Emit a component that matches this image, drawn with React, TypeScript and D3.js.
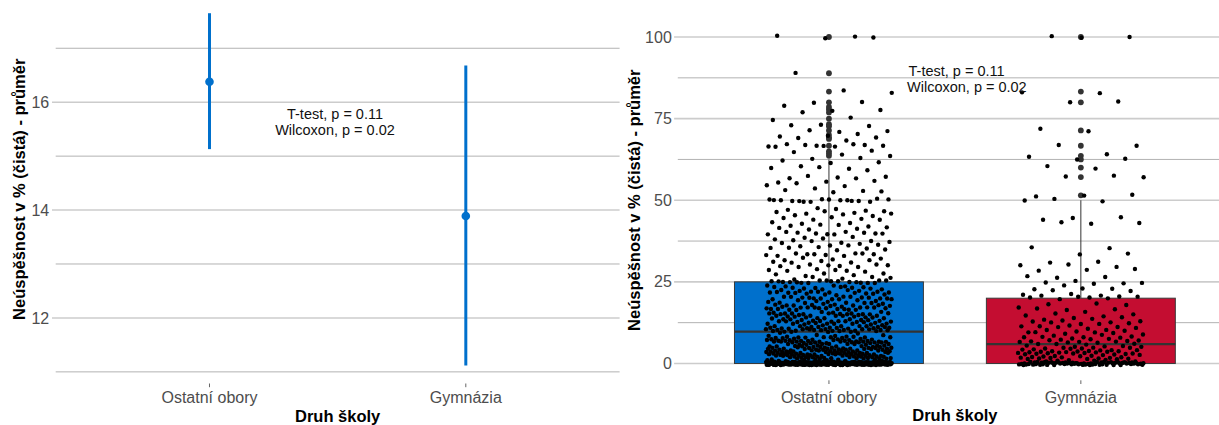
import React from 'react';
import * as d3 from 'd3';

// ---------- data ----------
const categories = ['Ostatní obory', 'Gymnázia'];

// left panel: group means with interval bounds
const means = [16.38, 13.89];
const lowers = [15.13, 11.12];
const uppers = [17.65, 16.68];
const leftMajorTicks = [12, 14, 16];
const leftMinorTicks = [11, 13, 15, 17];

// right panel: individual values, as [value, count]
const ostatniCounts: [number, number][] = [
  [0, 205],
  [0.8, 5], [1.2, 10], [1.6, 10], [2.0, 12], [2.4, 12], [2.8, 12], [3.2, 12], [3.6, 12], [4.0, 12],
  [4.5, 12], [5.0, 14], [5.6, 12], [6.3, 12], [6.7, 12], [7.1, 10], [7.7, 10], [8.3, 10], [9.5, 4],
  [10, 14], [10.5, 8], [11.1, 14], [11.8, 8], [12.5, 14], [13.3, 12], [14.3, 12], [15, 10], [15.4, 10],
  [16.7, 16], [17.6, 8], [18.2, 10], [19, 8], [20, 16], [21.4, 10], [22.2, 10], [23.1, 8], [23.5, 6], [25, 18],
  [26, 5], [27.3, 5], [28.6, 6], [30, 8], [31.3, 5], [32, 4], [33.3, 10], [35, 4], [35.7, 4], [36.4, 4],
  [37.5, 5], [38.5, 4], [40, 10], [41.2, 3], [42.1, 4], [42.9, 4], [44.4, 5], [45.5, 4], [46.2, 5], [47.1, 4],
  [50, 16], [52.4, 2], [53.3, 3], [54.5, 2], [55.6, 4], [57.1, 5], [58.8, 1], [60, 4], [61.5, 2], [62.5, 3],
  [63.6, 1], [64.3, 2], [65, 1], [66.7, 10], [68.8, 2], [69.2, 1], [70, 3], [71.4, 3], [72.7, 2], [73.3, 1],
  [75, 2], [76.9, 1], [77.8, 2], [78.6, 1], [80, 2], [83.3, 2], [88.9, 1], [100, 4],
];
const gymnaziaCounts: [number, number][] = [
  [0, 68],
  [0.5, 4], [1.0, 5], [1.4, 5], [1.8, 5], [2.2, 5], [2.6, 5], [3.0, 5], [3.4, 5], [3.8, 5], [4.2, 5],
  [4.5, 5], [5.0, 5], [5.6, 3],
  [5.9, 2], [6.3, 3], [6.7, 5], [7.1, 4], [7.7, 4], [8.3, 5], [9.1, 4], [10, 6], [11.1, 5], [11.8, 3],
  [12.5, 5], [13.3, 4], [14.3, 4], [15.4, 3], [16.7, 4], [18.2, 3],
  [20, 6],
  [20.8, 5], [22.7, 4], [23.1, 1], [24.4, 3], [25, 3], [26.7, 3], [28.6, 3], [30, 3], [31.3, 2], [33.3, 2],
  [35.7, 2], [42.9, 3], [44.4, 3], [50, 3],
  [51.5, 3], [57.1, 3], [60, 2], [62.5, 2], [63.6, 2], [66.7, 2], [71.4, 2], [80, 2], [83.3, 2], [100, 3],
];
const rightMajorTicks = [0, 25, 50, 75, 100];
const rightMinorTicks = [12.5, 37.5, 62.5, 87.5];

const boxColors = ['#0070CC', '#C40D31'];
const pointColor = '#0070CC';

const FONT = '"Liberation Sans", Arial, Helvetica, sans-serif';
const yTitle = 'Neúspěšnost v % (čistá) - průměr';
const xTitle = 'Druh školy';
const annot1 = 'T-test, p = 0.11';
const annot2 = 'Wilcoxon, p = 0.02';

// ---------- helpers ----------
const expand = (c: [number, number][]) => {
  const out: number[] = [];
  c.forEach(([v, n]) => { for (let k = 0; k < n; k++) out.push(v); });
  return out.sort((a, b) => a - b);
};
const frac = (x: number) => x - Math.floor(x);

function boxStats(vals: number[]) {
  const q1 = d3.quantile(vals, 0.25)!;
  const med = d3.quantile(vals, 0.5)!;
  const q3 = d3.quantile(vals, 0.75)!;
  const iqr = q3 - q1;
  const hi = d3.max(vals.filter(v => v <= q3 + 1.5 * iqr))!;
  const lo = d3.min(vals.filter(v => v >= q1 - 1.5 * iqr))!;
  const outliers = Array.from(new Set(vals.filter(v => v > hi || v < lo)));
  return { q1, med, q3, hi, lo, outliers };
}

export default function App() {
  const W = 1219, H = 425;

  // ----- left panel -----
  const L = { left: 55.7, right: 619.6, top: -4.4, bottom: 383 };
  const lyMin = d3.min(lowers)!, lyMax = d3.max(uppers)!;
  const lpad = (lyMax - lyMin) * 0.05;
  const ly = d3.scaleLinear().domain([lyMin - lpad, lyMax + lpad]).range([L.bottom, L.top]);
  const lx = d3.scalePoint<string>().domain(categories).range([L.left, L.right]).padding(0.6);

  // ----- right panel -----
  const R = { left: 677.8, right: 1232, top: 20.7, bottom: 379.8 };
  const ry = d3.scaleLinear().domain([-5, 105]).range([R.bottom, R.top]);
  const rx = d3.scalePoint<string>().domain(categories).range([R.left, R.right]).padding(0.6);
  const step = rx.step();
  const boxW = step * 0.75;
  const jitterW = step * 0.25;

  const groups = [expand(ostatniCounts), expand(gymnaziaCounts)];
  const stats = groups.map(boxStats);

  const gridMajor = '#cccccc';
  const gridMinor = '#a9a9a9';
  const tickCol = '#4D4D4D';

  return (
    <svg width={W} height={H} style={{ position: 'absolute', left: 0, top: 0, background: '#fff' }}
      fontFamily={FONT}>
      <rect x={0} y={0} width={W} height={H} fill="#fff" />
      {/* ===== LEFT PANEL ===== */}
      <g>
        {leftMinorTicks.map(t => (
          <line key={'lm' + t} x1={L.left} x2={L.right} y1={ly(t)} y2={ly(t)} stroke={gridMinor} strokeWidth={0.9} />
        ))}
        {leftMajorTicks.map(t => (
          <g key={'lM' + t}>
            <line x1={L.left - 3.7} x2={L.right} y1={ly(t)} y2={ly(t)} stroke={gridMajor} strokeWidth={1.6} />
            <text x={L.left - 6.5} y={ly(t)} dy="0.35em" textAnchor="end" fontSize={16} fill={tickCol}>{t}</text>
          </g>
        ))}
        {categories.map((c, i) => (
          <g key={'le' + c}>
            <line x1={lx(c)} x2={lx(c)} y1={ly(uppers[i])} y2={ly(lowers[i])} stroke={pointColor} strokeWidth={3} />
            <circle cx={lx(c)} cy={ly(means[i])} r={4.3} fill={pointColor} />
            <line x1={lx(c)} x2={lx(c)} y1={L.bottom + 0.5} y2={L.bottom + 4.2} stroke="#555" strokeWidth={0.9} />
            <text x={lx(c)} y={403} textAnchor="middle" fontSize={16} fill={tickCol}>{c}</text>
          </g>
        ))}
        <text x={335} y={119} textAnchor="middle" fontSize={14.5} fill="#111">{annot1}</text>
        <text x={335} y={135} textAnchor="middle" fontSize={14.5} fill="#111">{annot2}</text>
        <text x={(L.left + L.right) / 2} y={422} textAnchor="middle" fontSize={16.5} fontWeight="bold" fill="#000">{xTitle}</text>
        <text transform={`translate(19,${(L.top + L.bottom) / 2}) rotate(-90)`} textAnchor="middle" dy="0.35em"
          fontSize={16.5} fontWeight="bold" fill="#000">{yTitle}</text>
      </g>

      {/* ===== RIGHT PANEL ===== */}
      <g>
        {rightMinorTicks.map(t => (
          <line key={'rm' + t} x1={R.left} x2={W} y1={ry(t)} y2={ry(t)} stroke={gridMinor} strokeWidth={0.9} />
        ))}
        {rightMajorTicks.map(t => (
          <g key={'rM' + t}>
            <line x1={R.left - 3.7} x2={W} y1={ry(t)} y2={ry(t)} stroke={gridMajor} strokeWidth={1.6} />
            <text x={R.left - 6} y={ry(t)} dy="0.35em" textAnchor="end" fontSize={16} fill={tickCol}>{t}</text>
          </g>
        ))}
        {categories.map((c, i) => {
          const s = stats[i];
          const cx = rx(c)!;
          return (
            <g key={'rb' + c}>
              <line x1={cx} x2={cx} y1={ry(s.q3)} y2={ry(s.hi)} stroke="#333" strokeWidth={1} />
              <line x1={cx} x2={cx} y1={ry(s.q1)} y2={ry(s.lo)} stroke="#333" strokeWidth={1} />
              <rect x={cx - boxW / 2} y={ry(s.q3)} width={boxW} height={ry(s.q1) - ry(s.q3)}
                fill={boxColors[i]} stroke="#3a3a3a" strokeWidth={1} />
              <line x1={cx - boxW / 2} x2={cx + boxW / 2} y1={ry(s.med)} y2={ry(s.med)} stroke="#333" strokeWidth={2.2} />
              {s.outliers.map(o => (
                <circle key={'o' + o} cx={cx} cy={ry(o)} r={2.9} fill="#333" />
              ))}
              <line x1={cx} x2={cx} y1={R.bottom + 0.5} y2={R.bottom + 4.2} stroke="#555" strokeWidth={0.9} />
              <text x={cx} y={403} textAnchor="middle" fontSize={16} fill={tickCol}>{c}</text>
            </g>
          );
        })}
        {categories.map((c, i) => {
          const cx = rx(c)!;
          return (
            <g key={'rj' + c}>
              {groups[i].map((v, k) => {
                const dx = (frac(k * 0.6180339887 + 0.37 + i * 0.21) * 2 - 1) * jitterW;
                const dy = (frac(k * 0.7548776662 + 0.5) - 0.5) * 1.0;
                return <circle key={k} cx={cx + dx} cy={ry(v + dy)} r={2.2} fill="#000" />;
              })}
            </g>
          );
        })}
        <text x={908.5} y={76} textAnchor="start" fontSize={14.5} fill="#111">{annot1}</text>
        <text x={907} y={92} textAnchor="start" fontSize={14.5} fill="#111">{annot2}</text>
        <text x={(R.left + R.right) / 2} y={421} textAnchor="middle" fontSize={16.5} fontWeight="bold" fill="#000">{xTitle}</text>
        <text transform={`translate(634,${(R.top + R.bottom) / 2}) rotate(-90)`} textAnchor="middle" dy="0.35em"
          fontSize={16.5} fontWeight="bold" fill="#000">{yTitle}</text>
      </g>
    </svg>
  );
}
